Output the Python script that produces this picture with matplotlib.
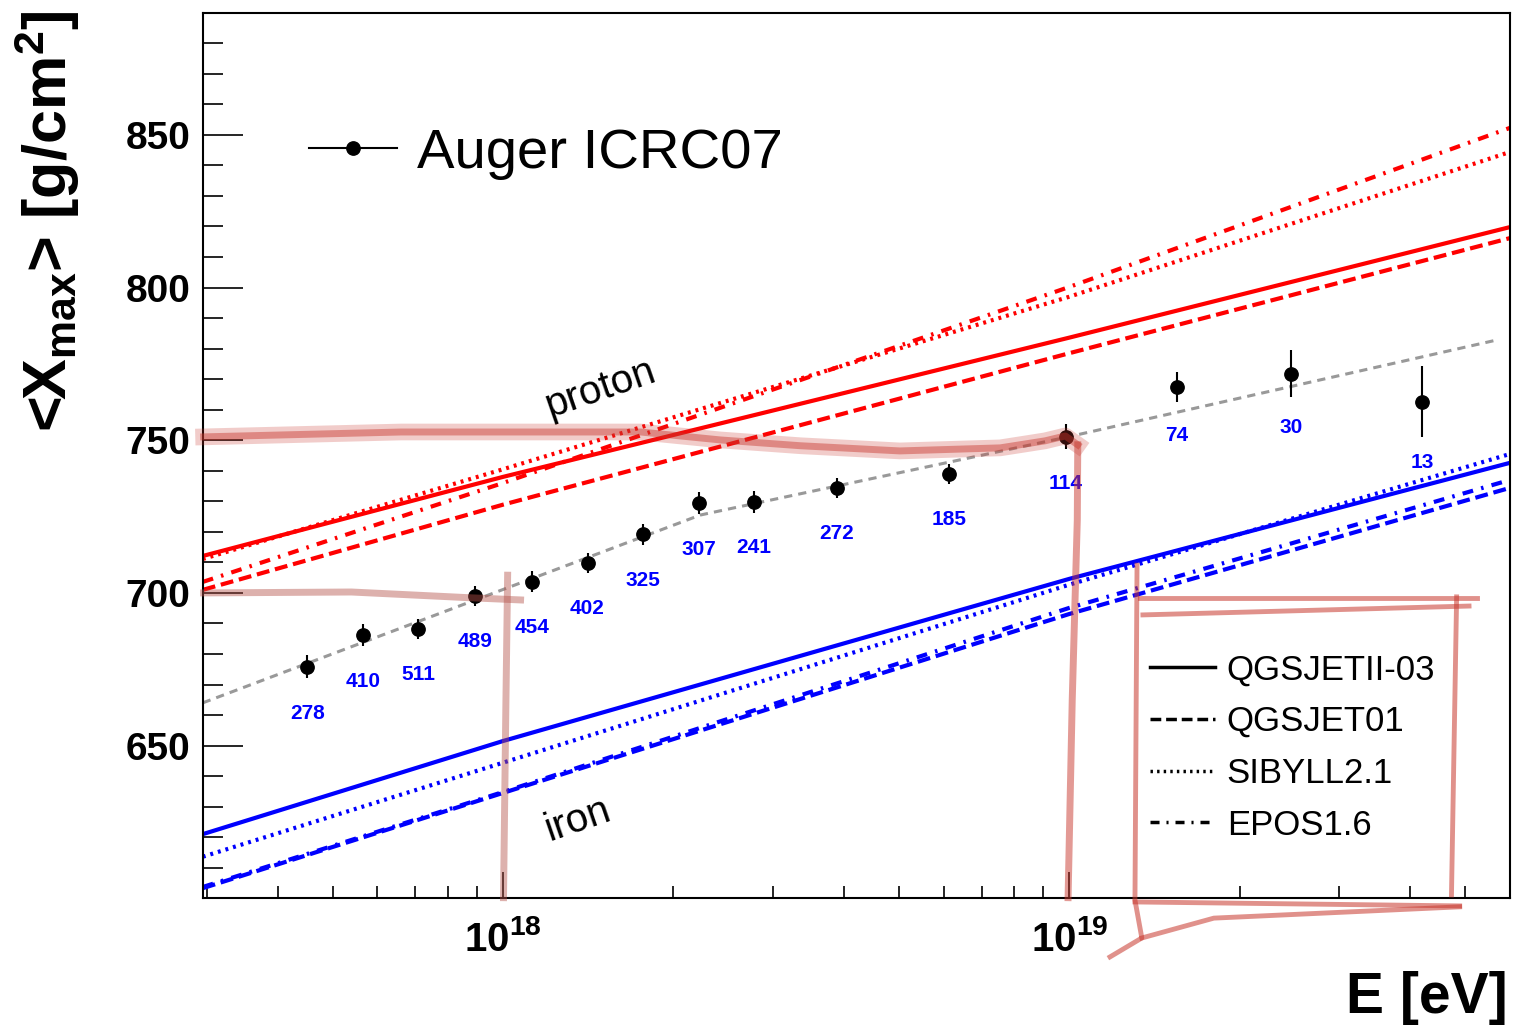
import numpy as np
import matplotlib
matplotlib.use('Agg')
import matplotlib.pyplot as plt
from matplotlib.lines import Line2D
from matplotlib.ticker import MultipleLocator, LogLocator, NullFormatter, FuncFormatter

plt.rcParams['font.family'] = ['Liberation Sans', 'DejaVu Sans']
plt.rcParams['mathtext.fontset'] = 'custom'
plt.rcParams['mathtext.rm'] = 'Liberation Sans:bold'
plt.rcParams['mathtext.it'] = 'Liberation Sans:bold'
plt.rcParams['mathtext.bf'] = 'Liberation Sans:bold'

# Auger ICRC07 <Xmax> points
energy = [4.51e17, 5.66e17, 7.09e17, 8.91e17, 1.124e18, 1.41e18, 1.77e18, 2.22e18,
          2.77e18, 3.89e18, 6.14e18, 9.87e18, 1.55e19, 2.46e19, 4.20e19]
xmax = [675.9, 686.1, 688.2, 699.0, 703.7, 709.9, 719.2, 729.4,
        729.9, 734.3, 738.9, 751.2, 767.3, 771.8, 762.6]
xmax_err = [3.8, 3.6, 3.4, 3.4, 3.4, 3.3, 3.4, 3.6, 3.6, 3.3, 3.2, 4.1, 4.9, 7.8, 11.7]
n_events = [278, 410, 511, 489, 454, 402, 325, 307, 241, 272, 185, 114, 74, 30, 13]

# broken-line fit through the data
fit_e = [2.95e17, 2.23e18, 9.95e18, 5.68e19]
fit_x = [664.0, 725.5, 751.1, 782.8]

# model predictions (proton / iron)
model_e = [2.95e17, 1e18, 1e19, 6e19]
p_qgsII = [712.1, 738.0, 783.6, 819.8]
p_qgs01 = [701.0, 728.9, 778.5, 816.2]
p_sib = [711.1, 740.5, 797.0, 844.4]
p_epos = [703.6, 736.0, 800.2, 852.3]
fe_qgsII = [621.0, 651.5, 704.6, 742.6]
fe_qgs01 = [603.3, 634.5, 693.1, 734.4]
fe_sib = [613.6, 644.4, 702.7, 745.5]
fe_epos = [603.7, 634.8, 695.1, 737.0]
models = ['QGSJETII-03', 'QGSJET01', 'SIBYLL2.1', 'EPOS1.6']

# hand drawn red marks
mark_p_e = [2.96e17, 6.61e17, 1.75e18, 2.42e18, 3.35e18, 5.02e18, 7.55e18, 9.06e18,
            9.84e18, 1.035e19]
mark_p_x = [751.1, 752.7, 752.7, 750.1, 748.2, 746.5, 747.5, 749.8, 751.4, 748.5]
mark_pv_e = [1.035e19, 1.033e19, 1.012e19, 9.95e18]
mark_pv_x = [748.5, 723.9, 665.0, 600.2]
mark_l_e = [2.96e17, 5.40e17, 8.77e17, 1.074e18]
mark_l_x = [700.0, 700.3, 698.4, 697.7]
mark_lv_e = [1.019e18, 1.012e18, 1.002e18]
mark_lv_x = [705.8, 665.0, 600.2]
box_left_e = [1.180e19, 1.343e19, 1.306e19, 1.317e19]
box_left_x = [580.8, 587.0, 599.4, 709.1]
box_bot1_e = [1.306e19, 4.89e19]
box_bot1_x = [598.8, 597.5]
box_bot2_e = [1.343e19, 1.80e19, 4.89e19]
box_bot2_x = [587.0, 593.5, 597.2]
box_top1_e = [1.333e19, 5.24e19]
box_top1_x = [698.4, 698.4]
box_top2_e = [1.349e19, 5.08e19]
box_top2_x = [692.8, 695.7]
box_right_e = [4.83e19, 4.73e19]
box_right_x = [698.7, 601.1]

styles = ['-', (0, (3.1, 1.4)), (0, (0.7, 1.2)), (0, (2.6, 2.0, 0.6, 2.0))]

fig = plt.figure(figsize=(15.2, 10.35), dpi=100)
ax = fig.add_axes([0.1334, 0.1321, 0.8600, 0.8556])
ax.set_xscale('log')
ax.set_xlim(2.95e17, 6e19)
ax.set_ylim(600, 890)

for vals, ls in zip([p_qgsII, p_qgs01, p_sib, p_epos], styles):
    ax.plot(model_e, vals, color='red', lw=3, linestyle=ls)
for vals, ls in zip([fe_qgsII, fe_qgs01, fe_sib, fe_epos], styles):
    ax.plot(model_e, vals, color='blue', lw=3, linestyle=ls)

ax.plot(fit_e, fit_x, color='#999999', lw=2.2, linestyle=(0, (2.7, 2.0)))

ax.errorbar(energy, xmax, yerr=xmax_err, fmt='o', color='k', ms=9.6,
            elinewidth=1.5, capsize=0, zorder=5)
for e, v, er, n in zip(energy, xmax, xmax_err, n_events):
    ax.annotate(str(n), (e, v), xytext=(0, -(28.5 + 1.32 * er)), textcoords='offset points',
                ha='center', va='center', color='blue', fontsize=15, fontweight='bold')

ax.text(1.486e18, 767.1, 'proton', fontsize=29, rotation=19, ha='center', va='center')
ax.text(1.352e18, 625.7, 'iron', fontsize=29, rotation=19, ha='center', va='center')

# red scribbles
sc = '#c8372d'
ax.plot(mark_p_e, mark_p_x, color=sc, lw=12, alpha=0.25, zorder=6, clip_on=False)
ax.plot(mark_p_e, mark_p_x, color=sc, lw=5, alpha=0.45, zorder=6, clip_on=False)
ax.plot(mark_pv_e, mark_pv_x, color=sc, lw=5, alpha=0.5, zorder=6, clip_on=False)
ax.plot(mark_l_e, mark_l_x, color='#b5524a', lw=5, alpha=0.45, zorder=6, clip_on=False)
ax.plot(mark_lv_e, mark_lv_x, color='#b5524a', lw=5, alpha=0.45, zorder=6, clip_on=False)
for be, bx in [(box_left_e, box_left_x), (box_bot1_e, box_bot1_x), (box_bot2_e, box_bot2_x),
               (box_top1_e, box_top1_x), (box_top2_e, box_top2_x), (box_right_e, box_right_x)]:
    ax.plot(be, bx, color=sc, lw=3.5, alpha=0.55, zorder=6, clip_on=False)

# axes cosmetics
for s in ax.spines.values():
    s.set_linewidth(1.5)
ax.set_yticks([650, 700, 750, 800, 850])
ax.yaxis.set_minor_locator(MultipleLocator(10))
ax.xaxis.set_major_locator(LogLocator(base=10, numticks=10))
ax.xaxis.set_minor_locator(LogLocator(base=10, subs=np.arange(2, 10), numticks=20))
ax.xaxis.set_minor_formatter(NullFormatter())
ax.xaxis.set_major_formatter(FuncFormatter(lambda v, p: r'$10^{%d}$' % int(round(np.log10(v)))))
ax.tick_params(axis='y', which='major', direction='in', length=28.8, width=1.2, labelsize=28, pad=9)
ax.tick_params(axis='y', which='minor', direction='in', length=14.4, width=1.2)
ax.tick_params(axis='x', which='major', direction='in', length=19, width=1.2, labelsize=29, pad=16)
ax.tick_params(axis='x', which='minor', direction='in', length=8.6, width=1.2)
for lab in ax.get_yticklabels():
    lab.set_fontweight('bold')

ax.set_xlabel('E [eV]', fontsize=41, fontweight='bold')
ax.xaxis.label.set_ha('right')
ax.xaxis.label.set_va('baseline')
ax.xaxis.set_label_coords(0.9985, -0.1295)
ax.set_ylabel(r'<X$_{\mathrm{max}}$> [g/cm$^{2}$]', fontsize=44, fontweight='bold')
ax.yaxis.label.set_rotation_mode('default')
ax.yaxis.label.set_ha('left')
ax.yaxis.label.set_va('top')
ax.yaxis.set_label_coords(-0.1459, 1.0019)

# legends
h_auger = Line2D([], [], color='k', lw=1.5, marker='o', ms=9.6)
leg1 = ax.legend([h_auger], ['Auger ICRC07'], loc='center left', bbox_to_anchor=(0.0813, 0.8408),
                 frameon=False, fontsize=40.5, handlelength=1.565, handletextpad=0.356,
                 borderpad=0, borderaxespad=0)
ax.add_artist(leg1)
h_models = [Line2D([], [], color='k', lw=2.5, linestyle=ls) for ls in styles]
ax.legend(h_models, models, loc='center left', bbox_to_anchor=(0.7246, 0.1703), frameon=False,
          fontsize=25, handlelength=1.87, handletextpad=0.34, labelspacing=0.54,
          borderpad=0, borderaxespad=0)

fig.savefig('out.png', dpi=100)
